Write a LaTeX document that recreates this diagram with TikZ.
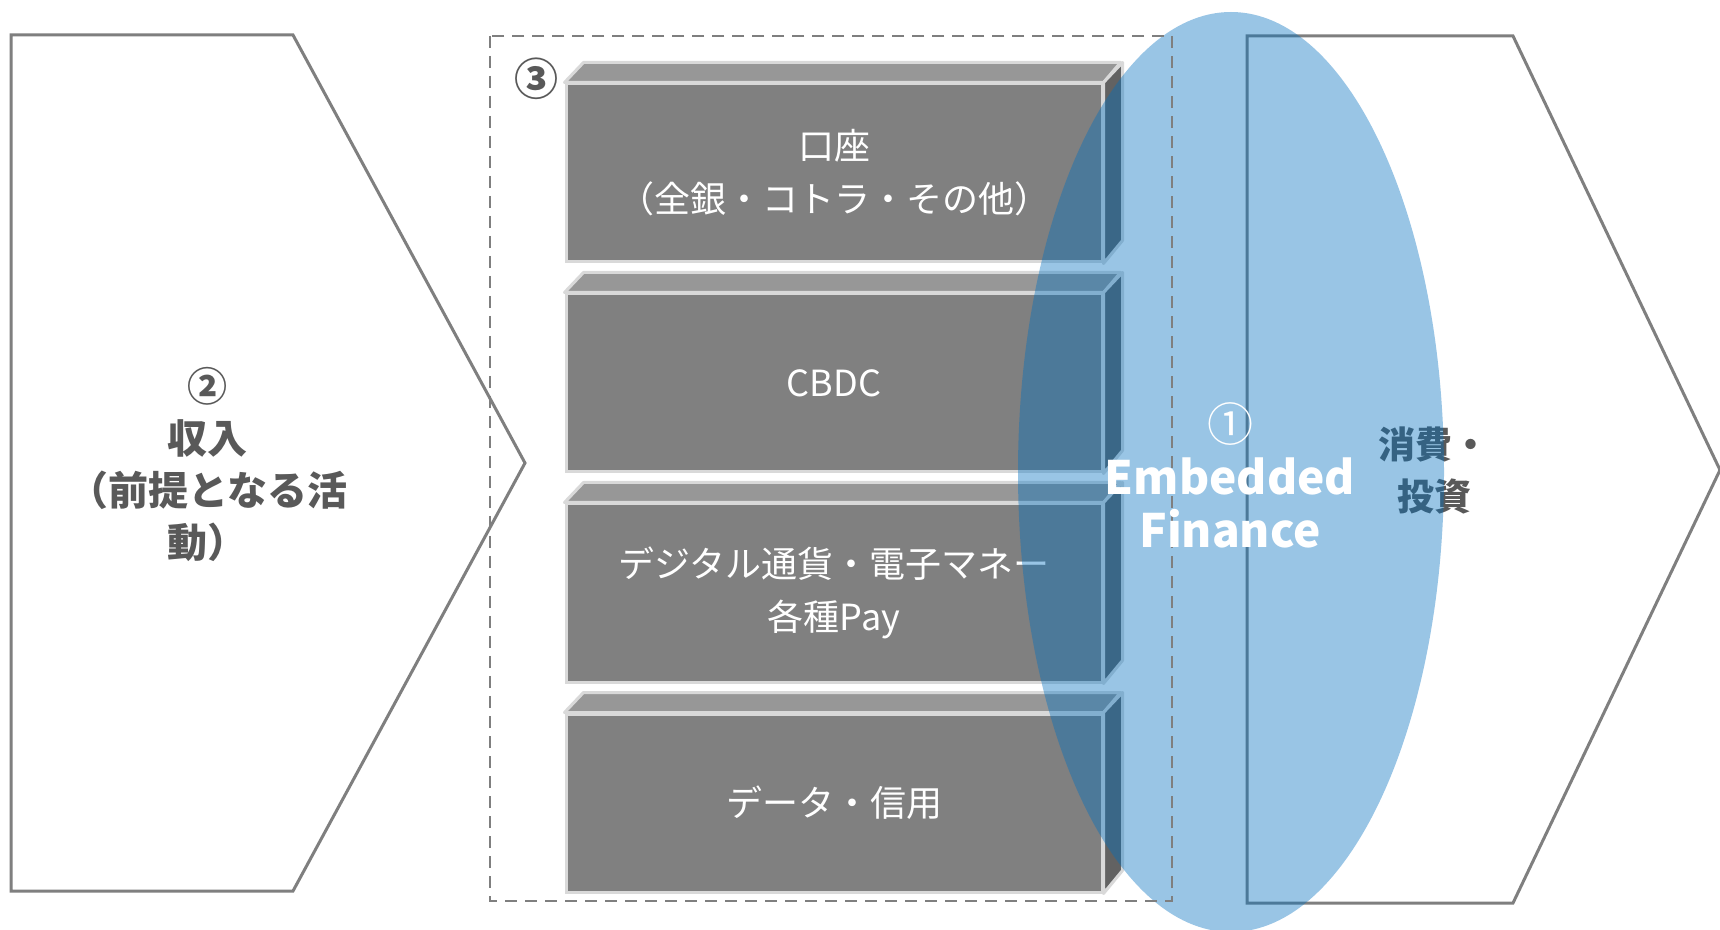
\documentclass[tikz,border=0pt]{standalone}
\usepackage{fontspec}
\setmainfont{Noto Sans CJK JP}
\usepackage{tikz}
\usetikzlibrary{positioning}
\definecolor{lineGray}{HTML}{7F7F7F}
\definecolor{txtGray}{HTML}{595959}
\definecolor{boxFront}{HTML}{808080}
\definecolor{boxTop}{HTML}{979797}
\definecolor{boxSide}{HTML}{626262}
\definecolor{boxEdge}{HTML}{D9D9D9}
\definecolor{efBlue}{HTML}{0070C0}

\begin{document}
\begin{tikzpicture}[x=0.5pt, y=-0.5pt,
    chevron/.style={draw=lineGray, line width=1.5pt, line join=miter},
    frontbox/.style={draw=boxEdge, line width=1.5pt, fill=boxFront, text=white, align=center,
      minimum width=268pt, minimum height=89pt, font=\fontsize{18}{26.5}\selectfont},
    topface/.style={draw=boxEdge, line width=1.5pt, fill=boxTop, line join=round},
    sideface/.style={draw=boxEdge, line width=1.5pt, fill=boxSide, line join=round},
    bigtxt/.style={align=center, font=\bfseries\fontsize{20}{26}\selectfont}]
  \fill[white] (0,0) rectangle (1720,930);
  \useasboundingbox (0,0) rectangle (1720,930);

  \draw[chevron] (11,35) -- (293,35) -- (525,463) -- (293,891) -- (11,891) -- cycle;
  \node[bigtxt, text=txtGray] (income) at (208,464) {②\\収入\\（前提となる活\\動）};

  \foreach \txt [count=\i from 0] in {{口座\\（全銀・コトラ・その他）}, CBDC, {デジタル通貨・電子マネー\\各種Pay}, データ・信用} {
    \node[frontbox] (box\i) at (834,173+210*\i) {\txt};
    \draw[topface] (box\i.north west) -- ++(19,-20) -- ++(537,0) -- (box\i.north east) -- cycle;
    \draw[sideface] (box\i.north east) -- ++(19,-20) -- ++(0,178) -- (box\i.south east) -- cycle;
  }
  \node[text=txtGray, font=\bfseries\fontsize{22}{22}\selectfont] (num3) at (536,79) {③};

  \draw[chevron] (1247,36) -- (1513,36) -- (1720,470) -- (1513,903) -- (1247,903) -- cycle;
  \node[bigtxt, text=txtGray, font=\bfseries\fontsize{18.5}{26}\selectfont] (spend) at (1434,470) {消費・\\投資};

  \fill[efBlue, opacity=0.4] (1231,472) ellipse [x radius=213, y radius=460];
  \draw[lineGray, line width=1.25pt, dash pattern=on 6pt off 4pt] (490,36) rectangle (1172,901);

  \node[text=white, align=center, font=\bfseries\fontsize{23}{26.5}\selectfont] (embfin) at (1230,475) {{\mdseries ①}\\Embedded\\Finance};
\end{tikzpicture}
\end{document}
